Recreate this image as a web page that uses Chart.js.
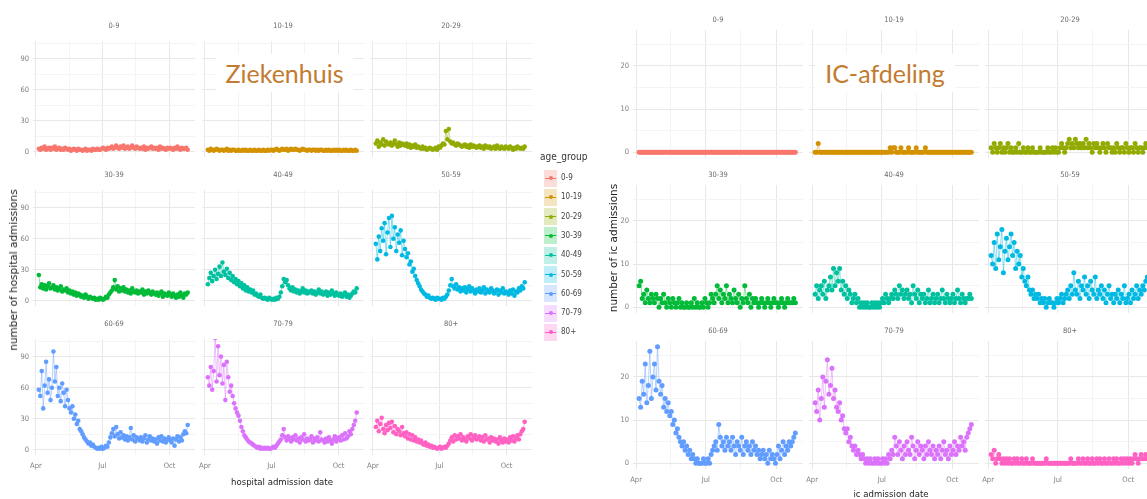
<!DOCTYPE html>
<html lang="nl">
<head>
<meta charset="UTF-8">
<title>Ziekenhuis- en IC-opnames per leeftijdsgroep</title>
<script src="https://cdn.jsdelivr.net/npm/chart.js@4.4.0/dist/chart.umd.min.js"></script>
<style>
  body { margin: 0; background: #fff; }
  #page { position: relative; width: 1147px; height: 499px; overflow: hidden; background: #fff; }
  #page canvas { position: absolute; }
  .txt { position: absolute; white-space: nowrap; }
</style>
</head>
<body>
<div id="page"></div>
<script>
// x positions: days since 1 April (one value every 2 days)
const days = [4,6,8,10,12,14,16,18,20,22, 24,26,28,30,32,34,36,38,40,42, 44,46,48,50,52,54,56,58,60,62,
  64,66,68,70,72,74,76,78,80,82, 84,86,88,90,92,94,96,98,100,102, 104,106,108,110,112,114,116,118,120,122,
  124,126,128,130,132,134,136,138,140,142, 144,146,148,150,152,154,156,158,160,162,
  164,166,168,170,172,174,176,178,180,182, 184,186,188,190,192,194,196,198,200,202, 204,206,208];

const monthTicks = [0, 91, 183];
const monthLabels = ['Apr', 'Jul', 'Oct'];
const monthMinor = [45.5, 137];

const ageGroups = ['0-9','10-19','20-29','30-39','40-49','50-59','60-69','70-79','80+'];
const groupColors = ['#F8766D','#D39200','#93AA00','#00BA38','#00C19F','#00B9E3','#619CFF','#DB72FB','#FF61C3'];

const hospYTicks = [0, 30, 60, 90];
const hospYMinor = [15, 45, 75, 105];
const icYTicks = [0, 10, 20];
const icYMinor = [5, 15, 25];

// hospital admissions per day
const hosp0_9 = [3,2,4,3,5,2,3,4,2,4, 3,5,2,3,4,2,3,2,4,3, 2,3,1,2,3,2,1,3,2,2, 1,2,3,1,2,2,1,3,2,2,
  3,2,2,3,4,3,2,4,3,4, 5,3,4,6,4,3,5,4,6,3, 4,5,3,4,6,4,3,5,4,3, 4,3,5,2,4,3,4,5,3,4,
  3,4,2,5,3,4,3,2,4,3, 4,3,2,4,3,5,3,2,4,3, 3,4,2];
const hosp10_19 = [2,1,3,2,1,2,3,2,1,2, 2,1,2,3,1,2,1,2,2,1, 1,2,1,1,2,1,2,1,1,2, 1,1,2,1,1,2,1,1,2,1,
  1,2,1,2,2,1,2,3,2,1, 2,3,2,2,3,1,2,3,2,2, 3,2,2,1,2,3,2,2,1,2, 2,1,2,2,1,2,1,2,2,1,
  1,2,1,2,1,1,2,1,2,1, 2,1,1,2,1,2,1,1,2,1, 1,2,1];
const hosp20_29 = [8,11,5,9,7,12,6,10,8,7, 9,6,8,11,7,5,9,6,8,7, 6,8,5,7,4,6,5,7,4,5, 4,3,5,3,4,2,3,4,3,2,
  3,4,2,5,4,6,8,7,20,12, 22,10,8,9,7,6,8,7,6,5, 6,7,5,6,4,7,5,6,5,4, 5,6,4,5,3,6,5,4,5,3,
  4,5,3,6,4,3,5,4,3,5, 4,3,5,4,2,4,3,5,4,3, 4,3,5];
const hosp30_39 = [25,13,16,12,15,11,14,17,12,13, 15,11,13,10,12,14,9,11,10,12, 8,10,7,9,6,8,5,7,6,4, 5,3,6,4,2,4,3,2,3,1,
  2,1,3,2,1,2,4,3,6,8, 10,13,20,11,14,9,12,10,13,9, 11,8,10,7,12,9,8,10,7,9, 8,11,6,9,7,10,8,6,9,7,
  6,8,5,7,9,4,7,6,5,8, 6,4,7,5,3,6,4,8,5,3, 7,6,8];
const hosp40_49 = [16,22,27,19,24,30,21,26,33,24, 37,28,25,31,22,27,20,24,18,21, 16,19,14,17,12,15,10,13,9,11, 8,10,6,7,5,4,6,3,2,3,
  2,1,3,2,1,2,1,3,2,4, 8,14,21,18,20,15,12,10,13,9, 11,8,10,7,9,12,8,10,7,9, 8,10,7,9,6,8,11,7,9,6,
  7,9,5,8,6,10,7,5,8,6, 5,7,4,6,8,4,6,3,5,7, 9,8,12];
const hosp50_59 = [55,40,62,48,70,58,75,45,66,80, 52,82,60,71,48,64,56,68,44,58, 50,42,46,35,38,28,31,24,20,17, 14,11,9,7,6,4,5,3,2,3,
  2,1,3,2,2,1,3,2,4,6, 10,15,21,14,12,16,11,13,9,12, 10,13,8,11,14,9,12,10,7,11, 9,12,8,10,13,7,11,9,8,12,
  10,7,9,11,6,10,8,12,7,9, 8,6,10,7,11,5,9,8,12,10, 14,12,18];
const hosp60_69 = [58,52,76,40,62,85,55,68,48,60, 95,66,80,52,60,47,64,55,42,58, 48,40,36,42,30,34,25,28,20,18, 15,12,10,8,6,7,4,5,3,2,
  1,2,1,3,1,2,4,3,7,12, 16,20,13,22,15,11,17,12,14,10, 13,9,12,21,10,14,8,12,11,9, 12,8,11,14,7,10,13,9,11,8,
  10,6,12,9,13,8,11,7,10,12, 9,7,11,4,10,13,8,12,9,15, 18,16,24];
const hosp70_79 = [70,62,80,58,76,108,66,100,72,90, 64,82,48,85,70,56,62,52,45,40, 36,33,28,22,18,14,12,10,8,7, 6,5,4,3,2,3,1,2,1,2,
  1,2,1,1,2,3,2,4,6,8, 10,14,20,12,9,13,11,8,12,10, 14,9,11,7,12,10,15,8,11,9, 10,13,7,11,9,12,8,17,10,9,
  7,11,8,12,9,6,10,13,8,11, 12,9,14,10,16,11,13,18,15,20, 24,28,36];
const hosp80 = [22,28,18,25,31,20,16,24,19,26, 21,27,17,23,15,20,18,14,22,16, 13,17,11,15,10,14,9,12,8,10, 7,9,6,5,7,4,5,3,4,2,
  3,2,1,2,3,1,2,3,2,4, 6,9,12,8,14,10,13,11,15,9, 12,10,8,13,11,15,9,12,14,10, 11,13,9,12,8,14,10,11,7,12,
  9,11,8,10,6,12,9,7,11,8, 10,7,12,9,13,8,11,14,10,15, 18,20,27];

// IC admissions per day
const ic0_9 = [0,0,0,0,0,0,0,0,0,0, 0,0,0,0,0,0,0,0,0,0, 0,0,0,0,0,0,0,0,0,0, 0,0,0,0,0,0,0,0,0,0,
  0,0,0,0,0,0,0,0,0,0, 0,0,0,0,0,0,0,0,0,0, 0,0,0,0,0,0,0,0,0,0, 0,0,0,0,0,0,0,0,0,0,
  0,0,0,0,0,0,0,0,0,0, 0,0,0,0,0,0,0,0,0,0, 0,0,0];
const ic10_19 = [0,0,2,0,0,0,0,0,0,0, 0,0,0,0,0,0,0,0,0,0, 0,0,0,0,0,0,0,0,0,0, 0,0,0,0,0,0,0,0,0,0,
  0,0,0,0,0,0,0,0,0,1, 0,1,1,0,0,0,1,0,0,0, 0,1,0,0,0,0,1,0,0,0, 0,0,1,0,0,0,0,0,0,0,
  0,0,0,0,0,0,0,0,0,0, 0,0,0,0,0,0,0,0,0,0, 0,0,0];
const ic20_29 = [1,0,2,1,0,1,2,0,1,0, 1,2,0,1,0,0,1,0,2,0, 0,1,0,0,1,0,0,1,0,0, 0,0,1,0,0,0,0,1,0,0,
  1,0,1,0,0,1,2,1,0,1, 2,3,1,2,1,3,2,1,2,1, 2,1,3,1,2,1,0,2,1,2, 1,0,1,2,1,0,2,1,1,0,
  1,0,2,1,0,1,1,0,2,1, 0,1,1,0,2,1,0,1,1,0, 1,2,1];
const ic30_39 = [5,6,2,3,1,4,2,1,3,2, 1,3,2,0,2,1,3,1,0,2, 1,0,2,1,0,1,2,0,1,0, 0,1,0,0,1,0,2,0,1,0,
  0,1,0,2,1,0,1,3,2,1, 3,5,2,4,1,3,2,5,1,3, 2,1,4,2,1,3,0,2,1,5, 2,1,3,0,2,1,2,1,0,1,
  2,1,0,1,2,1,0,1,2,1, 1,0,1,2,1,0,1,2,1,1, 1,2,1];
const ic40_49 = [3,5,2,4,5,3,6,2,4,5, 7,4,9,5,8,6,9,4,6,3, 5,2,4,3,1,2,3,1,2,0, 1,0,1,0,1,0,0,1,0,1,
  0,1,0,1,2,1,3,2,1,2, 3,2,4,3,2,5,3,4,2,3, 4,2,3,1,5,3,2,4,1,3, 2,3,1,2,4,1,2,3,1,2,
  3,1,2,4,2,1,3,2,1,2, 3,1,2,4,2,1,3,2,1,2, 2,3,2];
const ic50_59 = [12,10,15,9,17,11,14,18,8,13, 16,11,14,17,12,15,9,13,10,12, 7,9,6,5,7,4,3,4,2,3, 2,3,1,2,1,2,0,1,2,1,
  1,0,1,2,1,2,3,1,2,3, 4,2,5,3,8,4,3,6,2,5, 4,7,3,5,2,6,4,3,7,2, 4,3,5,2,4,1,3,5,2,3,
  1,3,2,4,1,3,2,5,1,2, 3,1,4,2,3,5,2,4,3,5, 4,6,7];
const ic60_69 = [15,13,19,16,23,14,18,26,15,20, 23,17,27,19,16,18,13,15,12,14, 11,12,9,10,7,8,6,5,4,5, 3,4,2,3,1,2,1,0,1,0,
  0,0,1,0,0,1,0,2,3,4, 5,3,9,6,4,5,3,6,4,5, 3,6,4,2,5,4,3,6,2,4, 5,3,4,2,5,3,4,2,3,1,
  2,3,1,2,0,3,1,2,1,0, 2,4,1,3,5,2,4,3,5,4, 5,6,7];
const ic70_79 = [14,12,17,10,15,20,13,19,24,16, 18,22,15,17,13,12,14,10,11,8, 7,8,5,6,4,3,4,2,3,2, 1,2,1,0,1,0,1,0,0,1,
  0,1,0,0,1,0,1,0,2,1, 3,2,6,4,2,5,3,1,4,2, 5,3,2,6,4,1,3,5,2,4, 3,1,4,2,5,3,2,4,1,3,
  2,4,1,3,5,2,3,1,4,2, 3,5,2,4,3,6,4,5,3,6, 7,8,9];
const ic80 = [2,1,3,0,1,2,1,0,1,0, 1,0,1,0,0,1,0,1,0,0, 1,0,0,1,0,0,0,1,0,0, 0,0,0,0,0,0,1,0,0,0,
  0,0,0,0,0,0,0,0,0,0, 0,0,1,0,0,0,0,1,0,0, 1,0,0,1,0,0,1,0,0,1, 0,1,0,0,1,0,0,1,0,0,
  1,0,1,0,0,1,0,1,0,1, 0,1,0,1,2,1,0,1,2,1, 1,2,1];

const hospSeries = [hosp0_9, hosp10_19, hosp20_29, hosp30_39, hosp40_49, hosp50_59, hosp60_69, hosp70_79, hosp80];
const icSeries = [ic0_9, ic10_19, ic20_29, ic30_39, ic40_49, ic50_59, ic60_69, ic70_79, ic80];

const NARROW = "'Liberation Sans Narrow', 'DejaVu Sans Condensed', 'Liberation Sans', sans-serif";
const GRID_MAJOR = '#e8e8e8';
const GRID_MINOR = '#f4f4f4';
const YW = 16, XH = 18;

const page = document.getElementById('page');

function tint(hex, a) {
  const n = parseInt(hex.slice(1), 16);
  return 'rgba(' + (n >> 16) + ',' + ((n >> 8) & 255) + ',' + (n & 255) + ',' + a + ')';
}

function facet(p) {
  const bottom = p.row === 2, left = p.col === 0;
  const xh = bottom ? XH : 0;
  const cv = document.createElement('canvas');
  cv.width = p.w + YW;
  cv.height = p.th + p.h + xh;
  cv.style.left = (p.x - YW) + 'px';
  cv.style.top = (p.y - p.th) + 'px';
  page.appendChild(cv);

  const xGrid = monthTicks.concat(monthMinor);
  const yGrid = p.yTicks.concat(p.yMinor);

  new Chart(cv, {
    type: 'scatter',
    data: {
      datasets: [{
        data: days.map((d, i) => ({ x: d, y: p.values[i] })),
        showLine: true,
        borderColor: tint(p.color, 0.75),
        borderWidth: 0.6,
        backgroundColor: p.color,
        pointRadius: p.radius,
        pointBorderWidth: 0,
        pointHoverRadius: 0
      }]
    },
    options: {
      responsive: false,
      animation: false,
      events: [],
      layout: { padding: 0, autoPadding: false },
      plugins: {
        legend: { display: false },
        tooltip: { enabled: false },
        title: {
          display: true, text: p.label, fullSize: false, color: '#6a6a6a',
          font: { family: NARROW, size: 7.5, weight: 'normal', lineHeight: '8px' },
          padding: { top: 0, bottom: p.th - 8 }
        }
      },
      scales: {
        x: {
          type: 'linear', min: -4, max: 218,
          border: { display: false },
          grid: { drawTicks: false, lineWidth: 1, color: c => monthTicks.includes(c.tick.value) ? GRID_MAJOR : GRID_MINOR },
          ticks: {
            display: bottom, padding: 7, color: '#7d7d7d', autoSkip: false, maxRotation: 0,
            font: { family: NARROW, size: 7.5 },
            callback: v => { const k = monthTicks.indexOf(v); return k >= 0 ? monthLabels[k] : ''; }
          },
          afterBuildTicks: s => { s.ticks = xGrid.map(v => ({ value: v })); },
          afterFit: s => { s.height = xh; s.paddingLeft = 0; s.paddingRight = 0; }
        },
        y: {
          type: 'linear', min: p.yMin, max: p.yMax,
          border: { display: false },
          grid: { drawTicks: false, lineWidth: 1, color: c => p.yTicks.includes(c.tick.value) ? GRID_MAJOR : GRID_MINOR },
          ticks: {
            display: left, padding: 4, color: '#7d7d7d', autoSkip: false,
            font: { family: NARROW, size: 7.5 },
            callback: v => p.yTicks.includes(v) ? String(v) : ''
          },
          afterBuildTicks: s => { s.ticks = yGrid.map(v => ({ value: v })); },
          afterFit: s => { s.width = YW; s.paddingTop = 0; s.paddingBottom = 0; }
        }
      }
    }
  });
}

// hospital block
const hospCols = [33, 202, 370], hospRows = [41, 190, 339];
// IC block
const icCols = [633, 809, 985], icRows = [30, 185, 341];

ageGroups.forEach((g, k) => {
  const row = Math.floor(k / 3), col = k % 3;
  facet({ label: g, color: groupColors[k], values: hospSeries[k], row, col, radius: 2.3,
    x: hospCols[col], y: hospRows[row], w: 162, h: 116, th: 19,
    yMin: -5, yMax: 107, yTicks: hospYTicks, yMinor: hospYMinor });
  facet({ label: g, color: groupColors[k], values: icSeries[k], row, col, radius: 2.5,
    x: icCols[col], y: icRows[row], w: 170, h: 128, th: 14,
    yMin: -1.35, yMax: 28.35, yTicks: icYTicks, yMinor: icYMinor });
});

function addText(text, css) {
  const d = document.createElement('div');
  d.className = 'txt';
  d.textContent = text;
  Object.assign(d.style, css);
  page.appendChild(d);
  return d;
}

// block titles
const bigTitle = { fontFamily: 'Lato, sans-serif', fontSize: '25px', color: '#c27b2f', background: '#fff',
  textAlign: 'center', height: '38px', lineHeight: '38px', top: '54px' };
addText('Ziekenhuis', Object.assign({ left: '216px', width: '137px' }, bigTitle));
addText('IC-afdeling', Object.assign({ left: '815px', width: '140px' }, bigTitle));

// axis titles
const axisTitle = { fontFamily: NARROW, fontSize: '9.5px', color: '#222', transform: 'translate(-50%,-50%)' };
addText('hospital admission date', Object.assign({ left: '282px', top: '481px' }, axisTitle));
addText('ic admission date', Object.assign({ left: '891px', top: '493px' }, axisTitle));
const yTitle = { fontFamily: "'DejaVu Sans', sans-serif", fontSize: '10.5px', color: '#222',
  transform: 'translate(-50%,-50%) rotate(-90deg)' };
addText('number of hospital admissions', Object.assign({ left: '13px', top: '270px' }, yTitle));
addText('number of ic admissions', Object.assign({ left: '613px', top: '248px' }, yTitle));

// legend
addText('age_group', { left: '540px', top: '151px', fontFamily: NARROW, fontSize: '10px', color: '#333' });
ageGroups.forEach((g, k) => {
  const cy = 178 + 19.3 * k;
  const key = document.createElement('div');
  Object.assign(key.style, { position: 'absolute', left: '544px', top: (cy - 8.5) + 'px', width: '13px', height: '17px',
    background: tint(groupColors[k], 0.25) });
  const bar = document.createElement('div');
  Object.assign(bar.style, { position: 'absolute', left: '1px', top: '8px', width: '11px', height: '1px', background: groupColors[k] });
  const dot = document.createElement('div');
  Object.assign(dot.style, { position: 'absolute', left: '4.5px', top: '6.5px', width: '4px', height: '4px', borderRadius: '50%',
    background: groupColors[k] });
  key.appendChild(bar);
  key.appendChild(dot);
  page.appendChild(key);
  addText(g, { left: '561px', top: (cy - 5) + 'px', fontFamily: NARROW, fontSize: '8px', color: '#444', lineHeight: '10px' });
});
</script>
</body>
</html>
